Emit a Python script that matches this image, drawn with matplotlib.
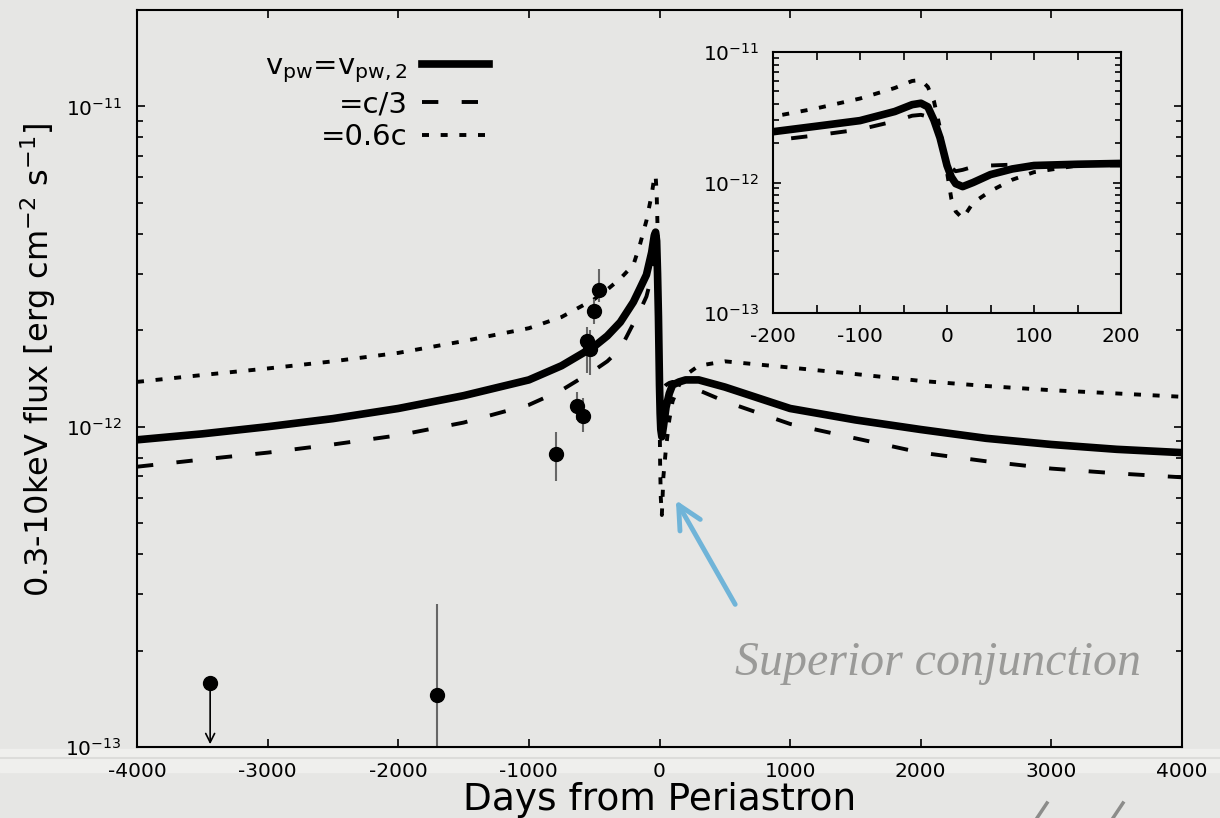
import numpy as np
import matplotlib.pyplot as plt
from matplotlib.ticker import LogLocator, NullFormatter, MultipleLocator, FixedLocator

plt.rcParams['axes.unicode_minus'] = False

# model light curves (days from periastron, flux in erg cm^-2 s^-1)
days = [-4000, -3500, -3000, -2500, -2000, -1500, -1000, -750, -500, -400, -300,
        -200, -150, -100, -60, -40, -30, -22, -15, -8, 0, 5, 10, 18, 30, 50, 75,
        100, 150, 200, 300, 500, 1000, 1500, 2000, 2500, 3000, 3500, 4000]
flux_pw2 = [9.1e-13, 9.5e-13, 1.0e-12, 1.06e-12, 1.14e-12, 1.25e-12, 1.4e-12, 1.55e-12,
            1.78e-12, 1.92e-12, 2.12e-12, 2.45e-12, 2.7e-12, 2.98e-12, 3.5e-12, 3.95e-12,
            4.05e-12, 3.8e-12, 3.0e-12, 2.2e-12, 1.35e-12, 1.1e-12, 9.8e-13, 9.3e-13,
            1.0e-12, 1.15e-12, 1.27e-12, 1.35e-12, 1.38e-12, 1.4e-12, 1.4e-12, 1.33e-12,
            1.14e-12, 1.05e-12, 9.8e-13, 9.2e-13, 8.8e-13, 8.5e-13, 8.3e-13]
flux_c3 = [7.5e-13, 7.9e-13, 8.3e-13, 8.8e-13, 9.4e-13, 1.03e-12, 1.17e-12, 1.3e-12,
           1.5e-12, 1.6e-12, 1.75e-12, 2.1e-12, 2.3e-12, 2.55e-12, 2.95e-12, 3.25e-12,
           3.3e-12, 3.2e-12, 2.85e-12, 2.1e-12, 1.45e-12, 1.3e-12, 1.22e-12, 1.25e-12,
           1.32e-12, 1.35e-12, 1.37e-12, 1.38e-12, 1.37e-12, 1.35e-12, 1.3e-12, 1.2e-12,
           1.02e-12, 9.2e-13, 8.3e-13, 7.8e-13, 7.4e-13, 7.15e-13, 6.95e-13]
flux_06c = [1.38e-12, 1.45e-12, 1.52e-12, 1.6e-12, 1.7e-12, 1.85e-12, 2.03e-12, 2.2e-12,
            2.5e-12, 2.68e-12, 2.9e-12, 3.2e-12, 3.7e-12, 4.4e-12, 5.3e-12, 6.0e-12,
            6.1e-12, 5.4e-12, 4.2e-12, 2.6e-12, 1.2e-12, 7.5e-13, 6.0e-13, 5.3e-13,
            7.0e-13, 8.6e-13, 1.05e-12, 1.2e-12, 1.35e-12, 1.45e-12, 1.55e-12, 1.6e-12,
            1.53e-12, 1.46e-12, 1.39e-12, 1.34e-12, 1.3e-12, 1.27e-12, 1.24e-12]

# observations
obs_day = [-791, -633, -582, -555, -530, -503, -464]
obs_flux = [8.2e-13, 1.16e-12, 1.08e-12, 1.85e-12, 1.75e-12, 2.3e-12, 2.67e-12]
obs_lo = [6.75e-13, 1.05e-12, 9.6e-13, 1.47e-12, 1.45e-12, 2.1e-12, 2.45e-12]
obs_hi = [9.6e-13, 1.28e-12, 1.23e-12, 2.05e-12, 2.0e-12, 2.5e-12, 3.1e-12]
old_day = [-1700]
old_flux = [1.45e-13]
old_lo = [5e-14]
old_hi = [2.8e-13]
ul_day = -3440
ul_flux = 1.58e-13

bg = '#e6e6e4'
fig = plt.figure(figsize=(12.2, 8.18), dpi=100, facecolor=bg)

# light band under the plot and small decorative strokes
fig.patches.append(plt.Rectangle((0, (818 - 772) / 818), 1, 23 / 818, transform=fig.transFigure,
                                 color='#efefed', zorder=-10))
fig.add_artist(plt.Line2D([0, 1], [(818 - 758) / 818] * 2, transform=fig.transFigure,
                          color='#dcdcda', lw=1.5, zorder=-9))
for x0 in [1047, 1123]:
    fig.add_artist(plt.Line2D([x0 / 1220, (x0 - 10) / 1220], [15 / 818, 0], transform=fig.transFigure,
                              color='#8c8c8a', lw=2.5, zorder=-9))

ax = fig.add_axes([137 / 1220, (818 - 747) / 818, 1045 / 1220, 737 / 818])
ax.patch.set_alpha(0)

dash = (4.2, 6.0)
dot = (1.8, 3.0)
ax.plot(days, flux_pw2, color='black', lw=5.5, label=r'v$_{\mathregular{pw}}$=v$_{\mathregular{pw,2}}$')
ax.plot(days, flux_c3, color='black', lw=2.8, dashes=dash, label='=c/3')
ax.plot(days, flux_06c, color='black', lw=2.8, dashes=dot, label='=0.6c')

yerr = [np.array(obs_flux) - np.array(obs_lo), np.array(obs_hi) - np.array(obs_flux)]
ax.errorbar(obs_day, obs_flux, yerr=yerr, fmt='o', color='black', ms=10, ecolor='#666666',
            elinewidth=1.5, capsize=0)
yerr2 = [np.array(old_flux) - np.array(old_lo), np.array(old_hi) - np.array(old_flux)]
ax.errorbar(old_day, old_flux, yerr=yerr2, fmt='o', color='black', ms=10, ecolor='#666666',
            elinewidth=1.5, capsize=0)
ax.plot([ul_day], [ul_flux], 'o', color='black', ms=10)
ax.annotate('', xy=(ul_day, 1.0e-13), xytext=(ul_day, ul_flux),
            arrowprops=dict(arrowstyle='->', color='black', lw=1.2, mutation_scale=16))

ax.set_yscale('log')
ax.set_xlim(-4000, 4000)
ax.set_ylim(1e-13, 2e-11)
ax.xaxis.set_major_locator(MultipleLocator(1000))
ax.yaxis.set_major_locator(FixedLocator([1e-13, 1e-12, 1e-11]))
ax.yaxis.set_minor_locator(LogLocator(base=10, subs=np.arange(2, 10)))
ax.yaxis.set_minor_formatter(NullFormatter())
ax.tick_params(which='both', direction='in', top=True, right=True, labelsize=14.5, width=1.2)
ax.tick_params(which='major', length=6, pad=11)
ax.tick_params(which='minor', length=4)
for s in ax.spines.values():
    s.set_linewidth(1.5)
ax.set_xlabel('Days from Periastron', fontsize=27)
ax.xaxis.set_label_coords(0.5, -0.047)
ax.set_ylabel(r'0.3-10keV flux [erg cm$^{\mathregular{-2}}$ s$^{\mathregular{-1}}$]', fontsize=23)
ax.yaxis.set_label_coords(-0.076, 0.526)

ax.legend(loc='upper right', bbox_to_anchor=(0.337, 0.943), frameon=False, markerfirst=False,
          fontsize=21, handlelength=2.3, handletextpad=0.5, labelspacing=0.18, borderpad=0,
          borderaxespad=0)

# annotation
ax.annotate('', xy=(115, 6.0e-13), xytext=(590, 2.74e-13),
            arrowprops=dict(arrowstyle='->', color='#70b4d8', lw=3.5, mutation_scale=42))
ax.text(2130, 1.83e-13, 'Superior conjunction', fontsize=34.5, style='italic',
        family='Liberation Serif', color='#9a9a98', ha='center', va='center')

# inset
ins = fig.add_axes([773 / 1220, (818 - 313) / 818, 348 / 1220, 261 / 818])
ins.patch.set_alpha(0)
ins.plot(days, flux_pw2, color='black', lw=5.5)
ins.plot(days, flux_c3, color='black', lw=2.8, dashes=dash)
ins.plot(days, flux_06c, color='black', lw=2.8, dashes=dot)
ins.set_yscale('log')
ins.set_xlim(-200, 200)
ins.set_ylim(1e-13, 1e-11)
ins.xaxis.set_major_locator(MultipleLocator(100))
ins.xaxis.set_minor_locator(MultipleLocator(50))
ins.yaxis.set_major_locator(FixedLocator([1e-13, 1e-12, 1e-11]))
ins.yaxis.set_minor_locator(LogLocator(base=10, subs=np.arange(2, 10)))
ins.yaxis.set_minor_formatter(NullFormatter())
ins.tick_params(which='both', direction='in', top=True, right=True, labelsize=14.5, width=1.2)
ins.tick_params(which='major', length=6, pad=10)
ins.tick_params(which='minor', length=4)
ins.tick_params(axis='x', which='minor', length=6)
for s in ins.spines.values():
    s.set_linewidth(1.5)

fig.savefig('out.png', dpi=100, facecolor=bg)
